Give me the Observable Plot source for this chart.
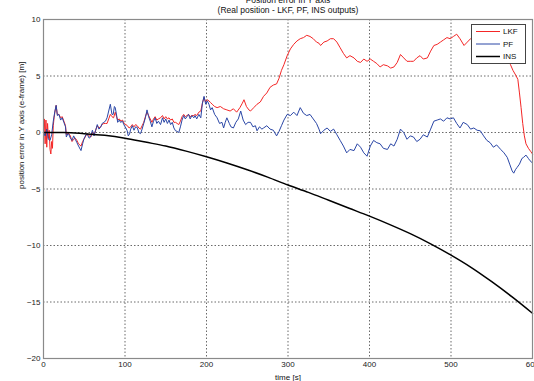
<!DOCTYPE html>
<html><head><meta charset="utf-8">
<script src="https://cdn.jsdelivr.net/npm/d3@7"></script>
<script src="https://cdn.jsdelivr.net/npm/@observablehq/plot@0.6"></script>
<style>
html,body{margin:0;padding:0;background:#fff;overflow:hidden;width:534px;height:381px}
#wrap{position:relative;width:534px;height:381px}
#legend{position:absolute;left:0;top:0}
</style></head><body><div id="wrap"><div id="chart"></div></div>
<script>
// ---- data ----
const lkfT = [0,1,2,3,4,5,6,7,8,9,10,11,12,13,14,15.5,17,19,21,23,25,27,28,30,33,35,37,39,41,43,46,48,49.5,52,54,56,58,60,62,64,66,68,70,72,74,76,78,80,82,84,86,88,90,91,93,95,97,99,101,103,105,107,109,111,113,115,117,119,121,123,125,127,129,131,133,135,137,139,141,143.6,146,148,150,152,154,156,158,160,162,164,166,168,170,172,174,176,178,180,182,184.5,186,188,190.6,193,195,197,199,201,203,205,207,210,213,217,221,225,229,233,237,241,244,246,249,252,254,258,262,266,270,274,278,282,286,289,292,295,299,303,307,311,315,319,323,327,331,335,338,340,344,348,352,356,360,364,368,372,376,381,385,389,393,397,401,405,409,413,417,422,426,430,434,438,442,446,450,454,458,462,466,471,475,479,483,487,491,495,499,503,507,511,516,520,524,530,540,550,560,565,570,573,576,580,582,584,586,588,590,592,595,598,600];
const lkfV = [0.3,1.2,-1.0,1.1,-1.3,0.8,-0.5,0.2,-1.5,-1.9,-0.8,-1.4,0.6,1.3,1.8,2.4,1.6,1.6,1.3,1.4,1.0,0.6,-0.2,0.0,-0.3,-0.8,-0.6,-0.5,-0.7,-1.0,-1.2,-0.8,-0.6,-0.3,-0.1,-0.3,-0.4,0.0,-0.2,0.2,0.6,0.4,0.5,0.7,0.8,0.8,0.8,1.2,1.6,1.4,1.3,1.8,1.3,1.1,1.2,1.0,1.1,0.8,0.7,0.6,0.4,0.5,0.7,0.5,0.7,0.6,0.4,0.3,0.6,0.9,1.4,1.8,1.5,1.2,0.9,1.2,1.4,1.1,1.2,1.3,1.5,1.2,1.4,1.2,1.3,1.1,1.2,0.9,0.9,0.8,0.7,1.0,1.4,1.6,1.4,1.5,1.6,1.4,1.5,1.5,1.6,1.5,1.8,1.9,2.6,3.1,2.7,2.9,2.8,2.65,2.5,2.3,2.2,2.3,2.1,2.0,1.9,2.1,1.8,2.2,2.6,2.9,2.3,2.0,1.9,2.2,2.5,2.7,3.2,3.5,4.0,4.2,4.3,4.8,5.5,6.0,6.8,7.4,7.8,8.1,8.3,8.4,8.6,8.5,8.3,8.0,7.9,7.7,8.0,8.1,8.3,8.3,8.0,7.5,7.0,6.6,6.8,6.6,6.3,6.2,6.5,6.3,6.5,6.3,6.1,5.8,6.0,5.9,5.7,5.8,6.2,6.9,6.6,6.3,6.3,6.3,6.6,6.8,6.5,6.6,7.2,7.7,7.8,8.0,8.2,8.4,8.3,8.5,8.7,8.3,7.7,8.0,8.3,8.2,8.0,8.2,8.1,7.4,6.5,6.0,5.5,5.0,4.7,3.5,2.2,0.8,-0.3,-1.0,-1.4,-1.7,-1.9];

const pfT = [0,2,4,6,8,10,12,14,15.5,17,19,21,23,25,27,28,30,31,33,35,37,39,41,43,46,48,49.5,52,53.6,56,57.7,60,62,64,66,68,70,72,74,76,78,80,82,84,85.5,87,88,90,91,93,94.5,97,98.5,101,102.7,104,105.5,107,109,111,113,115,117,119,121,123,125,127,129,131,133,135,137,139,141,143.6,146,148,150,152,154,156,158,160,162,164,166,168,170,172,174,176,178,180,182,184.5,186,188,190.6,193,195,197,199,201,203,205,207,210,213,216,219,221,223,225,228,230,233,236,239,242,245,248,251,254,257,260,262,265,268,270,274,278,282,286,289,292,295,299,303,307,311,315,319,323,327,331,335,338,340,344,348,352,356,360,364,368,372,376,381,385,389,393,397,401,405,409,413,417,422,426,430,434,438,442,446,450,454,458,462,466,471,475,479,483,487,491,495,499,503,507,511,515,520,524,528,532,536,540,544,548,552,556,561,565,569,572,575,577,579,581,584,587,589,592,595,597,600];
const pfV = [0,-0.3,0.3,-0.6,-0.7,-0.2,1.0,1.9,2.4,1.5,1.6,1.1,1.3,0.9,0.5,-0.4,-0.1,-0.15,-0.5,-0.7,-0.3,-0.6,-0.9,-1.2,-1.6,-1.0,-0.6,-0.2,-0.15,-0.5,-0.4,0.2,-0.3,0.2,0.7,0.3,0.45,0.8,0.9,1.0,1.3,1.9,2.5,1.6,1.6,2.3,2.2,1.4,0.9,1.1,0.9,1.0,0.7,0.4,0.15,-0.3,-0.15,0.3,0.6,0.2,0.5,0.45,0.0,-0.1,0.3,0.8,1.3,2.0,1.4,1.0,0.5,1.0,1.3,0.8,1.0,0.7,1.3,0.9,1.2,0.8,1.1,0.7,0.9,0.4,0.15,0.1,0.0,0.5,1.1,1.5,1.2,1.4,1.6,1.2,1.5,1.3,1.5,1.2,1.6,1.3,2.6,3.2,2.5,2.8,2.5,2.0,2.2,1.6,1.3,0.8,0.9,0.4,0.9,1.3,0.8,0.5,0.4,0.9,1.2,1.9,1.1,0.7,0.9,0.9,0.5,0.6,0.15,0.5,0.3,0.4,0.6,0.3,0.2,-0.3,0.1,0.6,1.1,1.6,1.5,1.8,1.5,2.2,1.7,1.5,1.6,1.2,0.8,0.3,-0.1,0.2,0.4,0.1,0.3,-0.2,-0.7,-1.2,-1.8,-1.5,-1.6,-1.0,-1.3,-1.8,-2.1,-1.2,-0.7,-0.9,-1.0,-1.4,-1.5,-1.0,-1.2,-0.6,0.3,0.0,-0.6,-0.3,-0.4,-0.8,-0.6,-0.2,-0.4,0.3,1.0,1.1,1.2,1.0,1.3,1.2,1.3,0.8,0.4,0.9,0.7,0.3,0.4,0.2,0.15,-0.3,-0.7,-0.9,-1.3,-1.1,-1.5,-1.8,-2.2,-2.8,-3.4,-3.6,-3.3,-3.1,-2.8,-2.3,-2.2,-2.0,-2.3,-2.5,-2.7];

const insT = [0,25,50,75,100,125,150,175,200,225,250,275,300,325,350,375,400,425,450,475,500,525,550,575,600];
const insV = [0,0,-0.1,-0.25,-0.5,-0.85,-1.2,-1.65,-2.15,-2.7,-3.3,-3.95,-4.65,-5.3,-6.0,-6.7,-7.4,-8.15,-8.95,-9.85,-10.85,-11.95,-13.2,-14.55,-16.0];

const xTicks = [0,100,200,300,400,500,600];
const yTicks = [10,5,0,-5,-10,-15,-20];
const seriesNames = ["LKF","PF","INS"];
const seriesColors = ["#f42626","#2a46a6","#000000"];
const seriesWidths = [1,1,1.5];
const titleText = "Position error in Y axis";
const subtitleText = "(Real position - LKF, PF, INS outputs)";
const xLabel = "time [s]";
const yLabel = "position error in Y axis (e-frame) [m]";

const rows = (T, V, name) => T.map((t, i) => ({t, v: V[i], name}));
const lkf = rows(lkfT, lkfV, "LKF");
const pf = rows(pfT, pfV, "PF");
const ins = rows(insT, insV, "INS");

const font = "'Liberation Sans', Arial, Helvetica, sans-serif";
const W = 534, H = 381, mL = 43, mR = 2, mT = 19, mB = 23;

const chart = Plot.plot({
  width: W, height: H,
  marginLeft: mL, marginRight: mR, marginTop: mT, marginBottom: mB,
  style: {fontFamily: font, fontSize: "8px", background: "#fff", color: "#222"},
  x: {domain: [0, 600], label: null},
  y: {domain: [-20, 10], label: null},
  marks: [
    Plot.gridX(xTicks, {stroke: "#444", strokeOpacity: 1, strokeWidth: 0.8, strokeDasharray: "1.5,2"}),
    Plot.gridY(yTicks, {stroke: "#444", strokeOpacity: 1, strokeWidth: 0.8, strokeDasharray: "1.5,2"}),
    Plot.axisX(xTicks, {tickSize: 0, tickPadding: 3, fill: "#222"}),
    Plot.axisY(yTicks, {tickSize: 0, tickPadding: 3, fill: "#222"}),
    Plot.line(lkf, {x: "t", y: "v", stroke: seriesColors[0], strokeWidth: seriesWidths[0]}),
    Plot.line(pf, {x: "t", y: "v", stroke: seriesColors[1], strokeWidth: seriesWidths[1]}),
    Plot.line(ins, {x: "t", y: "v", stroke: seriesColors[2], strokeWidth: seriesWidths[2], curve: "monotone-x"}),
    Plot.frame({stroke: "#8a8a8a", strokeWidth: 1.2}),
    Plot.text([titleText], {frameAnchor: "top", lineAnchor: "bottom", dy: -16.5, fontSize: 8.5, fill: "#111"}),
    Plot.text([subtitleText], {frameAnchor: "top", lineAnchor: "bottom", dy: -6.5, fontSize: 8.5, fill: "#111"}),
    Plot.text([xLabel], {frameAnchor: "bottom", lineAnchor: "bottom", dy: 21, fontSize: 8, fill: "#111"}),
    Plot.text([yLabel], {frameAnchor: "left", rotate: -90, dx: -22, fontSize: 8, fill: "#111"})
  ]
});
document.getElementById("chart").appendChild(chart);

// legend box (MATLAB style, NorthEast) as an overlay
const bx = W - mR - 61, by = mT + 5, bw = 54, bh = 39;
const lg = d3.create("svg").attr("id", "legend").attr("width", W).attr("height", H)
  .style("position", "absolute").style("left", "0px").style("top", "0px");
lg.append("rect").attr("x", bx + 0.5).attr("y", by + 0.5).attr("width", bw).attr("height", bh)
  .attr("fill", "#ffffff").attr("stroke", "#444444").attr("stroke-width", 1);
seriesNames.forEach((name, i) => {
  const yy = by + 7.5 + i * 12.5;
  lg.append("line").attr("x1", bx + 5).attr("x2", bx + 29).attr("y1", yy).attr("y2", yy)
    .attr("stroke", seriesColors[i]).attr("stroke-width", seriesWidths[i]);
  lg.append("text").attr("x", bx + 32).attr("y", yy).attr("dy", "0.35em")
    .attr("text-anchor", "start").attr("font-family", font).attr("font-size", 8)
    .attr("fill", "#111").text(name);
});
document.getElementById("wrap").appendChild(lg.node());
</script></body></html>
